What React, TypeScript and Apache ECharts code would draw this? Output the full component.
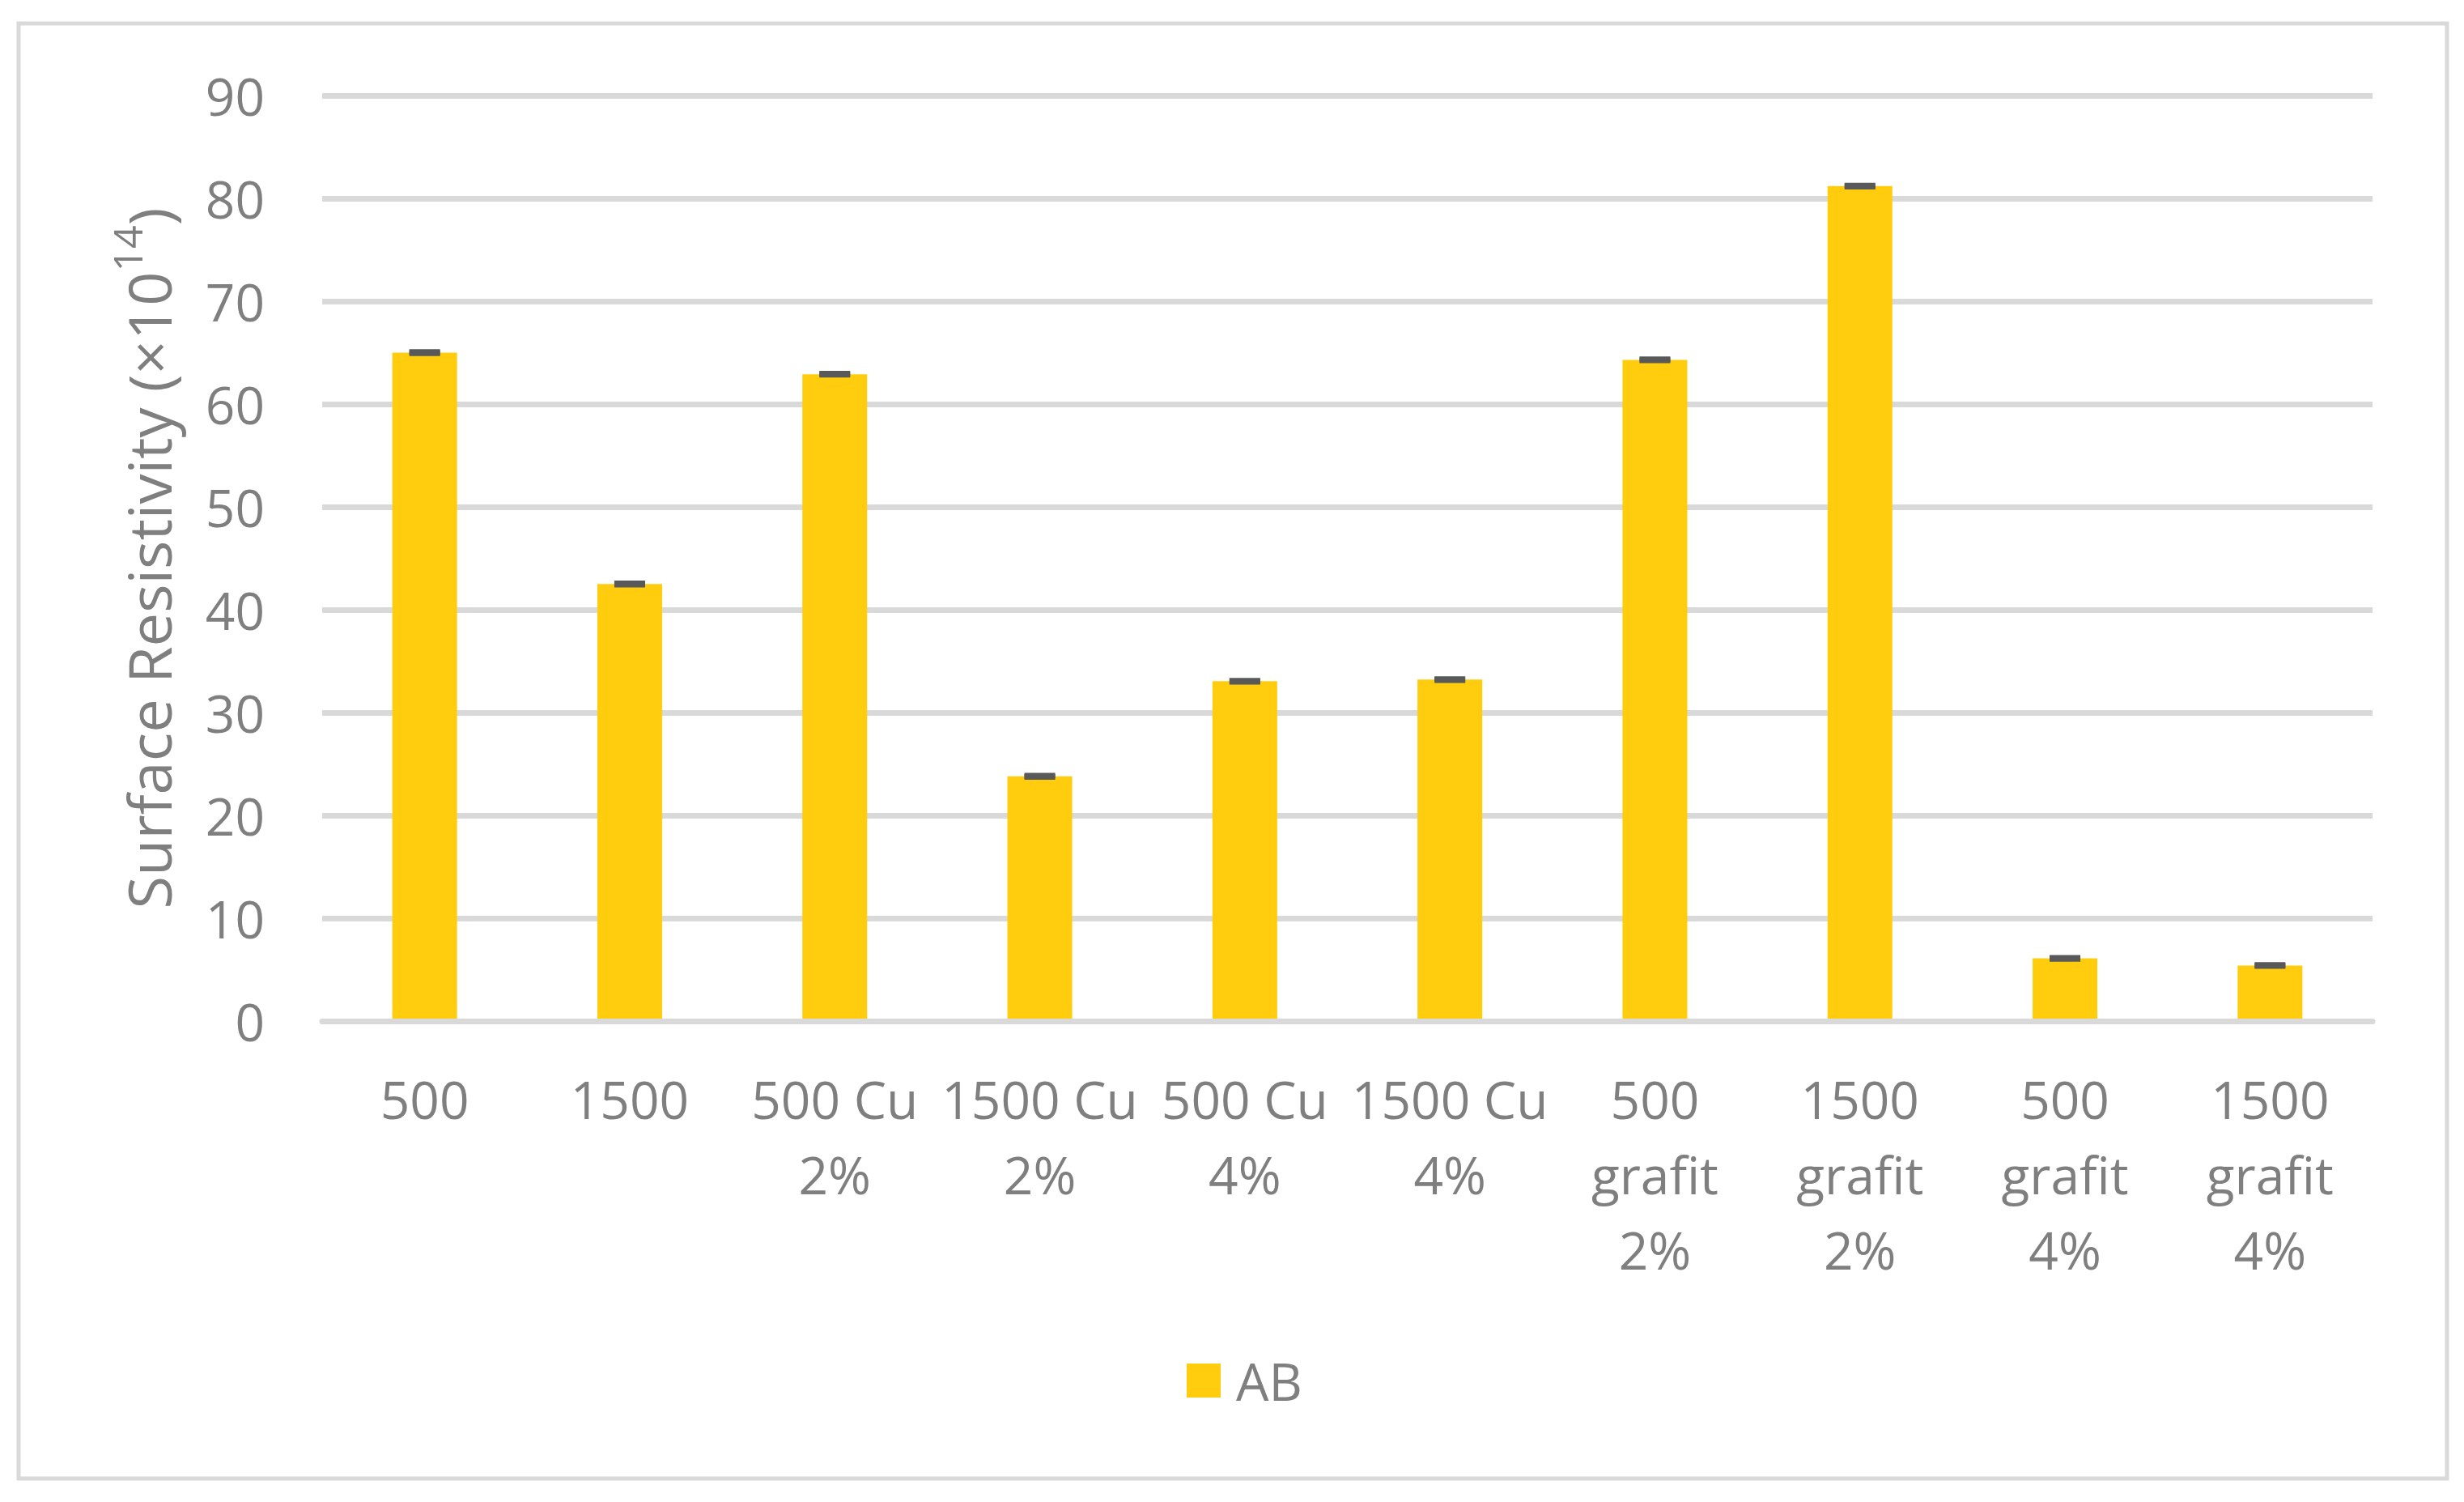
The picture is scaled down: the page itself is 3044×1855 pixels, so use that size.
import React, { useEffect, useRef } from "react";
import * as echarts from "echarts";

const categories = [
  "500",
  "1500",
  "500 Cu\n2%",
  "1500 Cu\n2%",
  "500 Cu\n4%",
  "1500 Cu\n4%",
  "500\ngrafit\n2%",
  "1500\ngrafit\n2%",
  "500\ngrafit\n4%",
  "1500\ngrafit\n4%",
];
const values = [65.0, 42.5, 62.9, 23.8, 33.05, 33.2, 64.3, 81.2, 6.1, 5.4];
const errors = [0.05, 0.05, 0.05, 0.05, 0.05, 0.05, 0.05, 0.05, 0.05, 0.05];
const seriesName = "AB";
const yAxisNameMain = "Surface Resistivity (×10";
const yAxisNameSup = "14";
const yAxisNameEnd = ")";
const yMin = 0;
const yMax = 90;
const yInterval = 10;

const FONT = "Open Sans";
const TEXT = "#7F7F7F";
const GRID = "#D9D9D9";
const BAR = "#FFCD0E";
const ERR = "#595959";

export default function App() {
  const ref = useRef<HTMLDivElement>(null);
  useEffect(() => {
    const chart = echarts.init(ref.current!, undefined, { renderer: "svg" });
    const errData = values.map((v, i) => [i, v, errors[i]]);
    chart.setOption({
      animation: false,
      backgroundColor: "#FFFFFF",
      textStyle: { fontFamily: FONT },
      graphic: [
        {
          type: "rect",
          shape: { x: 23, y: 29, width: 3000, height: 1797 },
          style: { fill: "none", stroke: GRID, lineWidth: 5 },
          silent: true,
        },
      ],
      grid: { left: 398, right: 113, top: 118, bottom: 594, containLabel: false },
      legend: {
        data: [{ name: seriesName, icon: "rect" }],
        left: 1461,
        top: 1668,
        itemWidth: 42,
        itemHeight: 42,
        textStyle: {
          fontFamily: FONT,
          fontSize: 64,
          color: TEXT,
          lineHeight: 64,
          padding: [0, 0, 0, 14],
        },
      },
      xAxis: {
        type: "category",
        data: categories,
        z: 3,
        axisTick: { show: false },
        axisLine: { show: true, lineStyle: { color: GRID, width: 7 } },
        axisLabel: {
          interval: 0,
          fontFamily: FONT,
          fontSize: 64,
          color: TEXT,
          lineHeight: 93,
          margin: 50,
        },
      },
      yAxis: {
        type: "value",
        min: yMin,
        max: yMax,
        interval: yInterval,
        name: "{m|" + yAxisNameMain + "}{s|" + yAxisNameSup + "}{m|" + yAxisNameEnd + "}",
        nameLocation: "middle",
        nameGap: 178,
        nameTextStyle: {
          fontFamily: FONT,
          fontSize: 74,
          color: TEXT,
          rich: {
            m: { fontFamily: FONT, fontSize: 74, color: TEXT, lineHeight: 88, verticalAlign: "bottom" },
            s: { fontFamily: FONT, fontSize: 50, color: TEXT, lineHeight: 88, verticalAlign: "top" },
          },
        },
        axisLine: { show: false },
        axisTick: { show: false },
        axisLabel: { fontFamily: FONT, fontSize: 64, color: TEXT, margin: 71 },
        splitLine: { show: true, lineStyle: { color: GRID, width: 7 } },
      },
      series: [
        {
          name: seriesName,
          type: "bar",
          data: values,
          barWidth: 80,
          itemStyle: { color: BAR },
          z: 2,
        },
        {
          name: "err",
          type: "custom",
          data: errData,
          z: 4,
          renderItem: (params: any, api: any) => {
            const i = api.value(0);
            const v = api.value(1);
            const e = api.value(2);
            const top = api.coord([i, v + e]);
            const bot = api.coord([i, v - e]);
            const half = 19;
            const st = { stroke: ERR, lineWidth: 7 };
            return {
              type: "group",
              children: [
                { type: "line", shape: { x1: top[0], y1: top[1], x2: bot[0], y2: bot[1] }, style: st },
                { type: "line", shape: { x1: top[0] - half, y1: top[1], x2: top[0] + half, y2: top[1] }, style: st },
                { type: "line", shape: { x1: bot[0] - half, y1: bot[1], x2: bot[0] + half, y2: bot[1] }, style: st },
              ],
            };
          },
        },
      ],
    });
    return () => chart.dispose();
  }, []);
  return (
    <div
      ref={ref}
      style={{ position: "fixed", left: 0, top: 0, width: 3044, height: 1855, background: "#fff" }}
    />
  );
}
